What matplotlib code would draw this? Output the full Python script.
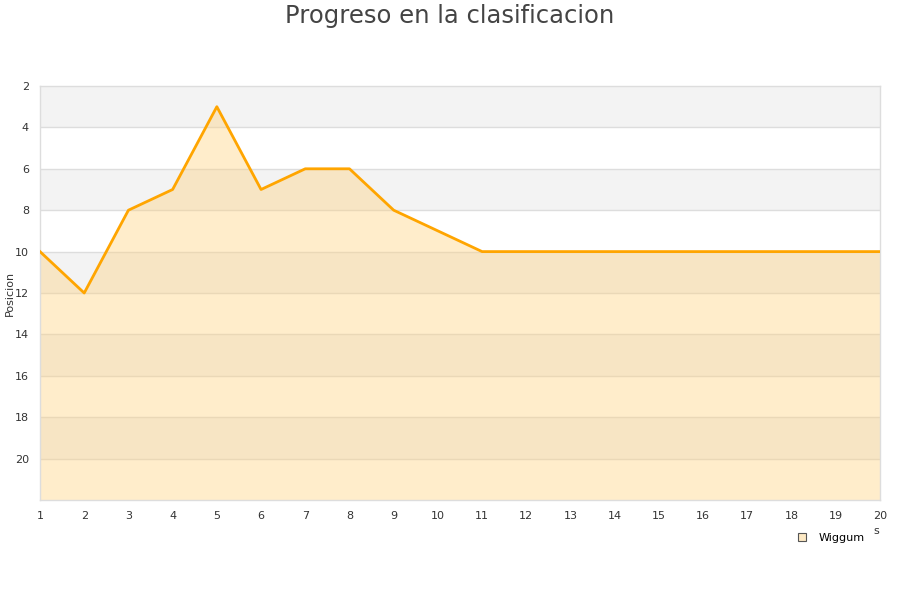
import matplotlib
matplotlib.use("Agg")
import matplotlib.pyplot as plt
from matplotlib.lines import Line2D

jornadas = list(range(1, 21))
posiciones = [10, 12, 8, 7, 3, 7, 6, 6, 8, 9, 10, 10, 10, 10, 10, 10, 10, 10, 10, 10]
serie = "Wiggum"
title = "Progreso en la clasificacion"
yticks = [2, 4, 6, 8, 10, 12, 14, 16, 18, 20]

fig = plt.figure(figsize=(9, 6), dpi=100)
ax = fig.add_axes([40/900, 1-500/600, 840/900, 414/600])

ymin, ymax = 2, 22
ax.set_xlim(1, 20)
ax.set_ylim(ymax, ymin)

# alternating bands
for i, y0 in enumerate(range(ymin, ymax, 2)):
    if i % 2 == 0:
        ax.axhspan(y0, y0 + 2, color="#f3f3f3", zorder=0, lw=0)
for y in range(ymin + 2, ymax, 2):
    ax.axhline(y, color="#dddddd", lw=1, zorder=1)

ax.fill_between(jornadas, posiciones, ymax, color="#ffd27f", alpha=0.4, lw=0, zorder=2)
ax.plot(jornadas, posiciones, color="#ffa500", lw=2.0, zorder=3)

ax.set_xticks(jornadas)
ax.set_yticks(yticks)
ax.tick_params(axis="both", length=0, labelsize=8, colors="#333333", pad=8)
for s in ax.spines.values():
    s.set_color("#dddddd")
    s.set_linewidth(1)

fig.text(10/900, 1-293/600, "Posicion", rotation=90, fontsize=8, color="#333333",
         ha="center", va="center")
fig.text(876/900, 1-531/600, "s", fontsize=8, color="#333333", ha="center", va="center")
fig.text(0.5, 1-16/600, title, fontsize=17.5, color="#444444", ha="center", va="center")

handle = Line2D([], [], marker="s", ls="none", markersize=6,
                markerfacecolor="#fde9c4", markeredgecolor="#555555", markeredgewidth=0.8)
fig.legend([handle], [serie], loc="center", bbox_to_anchor=(828/900, 1-538/600),
           frameon=False, fontsize=8, handletextpad=0.5)

fig.savefig("out.png", dpi=100)
